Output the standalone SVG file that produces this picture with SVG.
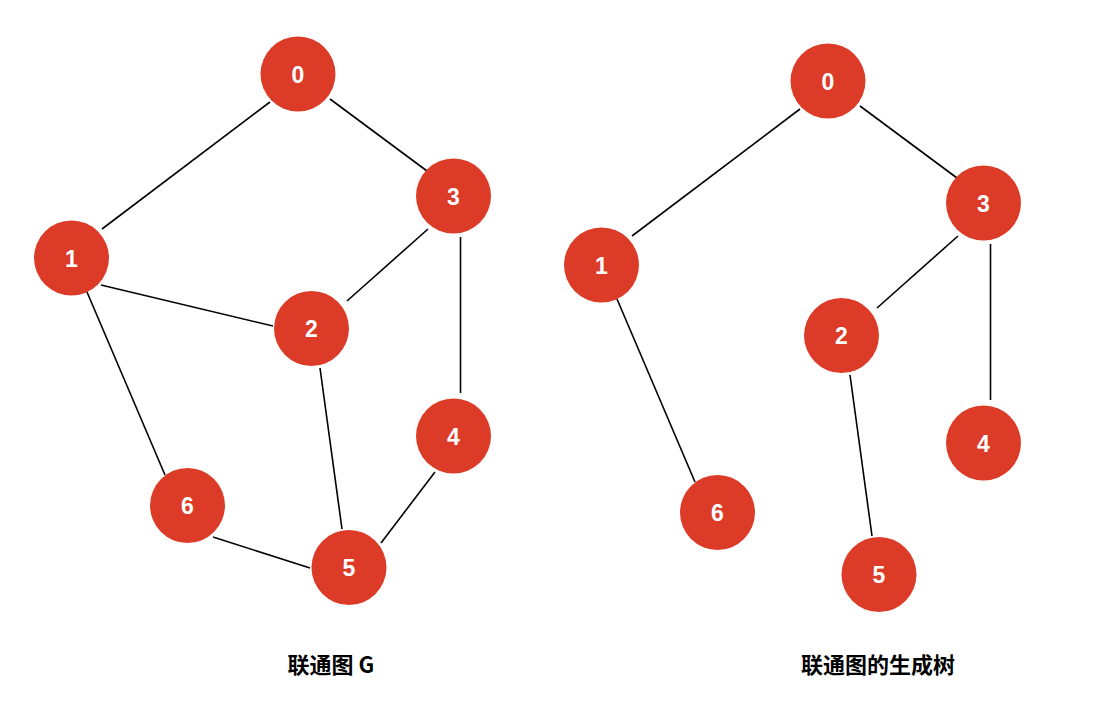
<svg xmlns="http://www.w3.org/2000/svg" width="1114" height="708" viewBox="0 0 1114 708">
<style>
.n circle{fill:#DC3B27}
.n text{fill:#fff;font-family:"Liberation Sans",Arial,sans-serif;font-weight:bold;font-size:23px;text-anchor:middle}
.e line{stroke:#000;stroke-width:1.6}
.t{font-family:"Noto Sans CJK SC","Liberation Sans",sans-serif;font-weight:bold;font-size:22px;text-anchor:middle;fill:#000}
</style>
<rect width="1114" height="708" fill="#fff"/>
<g id="connectors" class="e">
<line x1="270" y1="102" x2="102" y2="229"/>
<line x1="330" y1="99" x2="427" y2="171"/>
<line x1="101" y1="285" x2="273" y2="326"/>
<line x1="428" y1="229" x2="347" y2="301"/>
<line x1="460.5" y1="237" x2="460.5" y2="393"/>
<line x1="87" y1="292" x2="165" y2="475"/>
<line x1="320" y1="368" x2="342" y2="529"/>
<line x1="435" y1="472" x2="381" y2="543"/>
<line x1="213" y1="537" x2="310" y2="568"/>
<line x1="800" y1="109" x2="632" y2="236"/>
<line x1="860" y1="106" x2="957" y2="178"/>
<line x1="958" y1="236" x2="877" y2="308"/>
<line x1="990.5" y1="244" x2="990.5" y2="400"/>
<line x1="617" y1="299" x2="695" y2="482"/>
<line x1="850" y1="375" x2="872" y2="536"/>
</g>
<g id="node-L0" class="n"><circle cx="298" cy="74" r="37.5"/><text x="298" y="82.5">0</text></g>
<g id="node-L3" class="n"><circle cx="453.5" cy="196" r="37.5"/><text x="453.5" y="204.5">3</text></g>
<g id="node-L1" class="n"><circle cx="71.5" cy="258" r="37.5"/><text x="71.5" y="266.5">1</text></g>
<g id="node-L2" class="n"><circle cx="311.5" cy="328.5" r="37.5"/><text x="311.5" y="337">2</text></g>
<g id="node-L4" class="n"><circle cx="453.5" cy="436" r="37.5"/><text x="453.5" y="444.5">4</text></g>
<g id="node-L6" class="n"><circle cx="187.5" cy="505.5" r="37.5"/><text x="187.5" y="514">6</text></g>
<g id="node-L5" class="n"><circle cx="349" cy="567.5" r="37.5"/><text x="349" y="576">5</text></g>
<g id="node-R0" class="n"><circle cx="828" cy="81" r="37.5"/><text x="828" y="89.5">0</text></g>
<g id="node-R3" class="n"><circle cx="983.5" cy="203" r="37.5"/><text x="983.5" y="211.5">3</text></g>
<g id="node-R1" class="n"><circle cx="601.5" cy="265" r="37.5"/><text x="601.5" y="273.5">1</text></g>
<g id="node-R2" class="n"><circle cx="841.5" cy="335.5" r="37.5"/><text x="841.5" y="344">2</text></g>
<g id="node-R4" class="n"><circle cx="983.5" cy="443" r="37.5"/><text x="983.5" y="451.5">4</text></g>
<g id="node-R6" class="n"><circle cx="717.5" cy="512.5" r="37.5"/><text x="717.5" y="521">6</text></g>
<g id="node-R5" class="n"><circle cx="879" cy="574.5" r="37.5"/><text x="879" y="583">5</text></g>
<g id="titles">
<text class="t" x="331" y="673">联通图 G</text>
<text class="t" x="878" y="673">联通图的生成树</text>
</g>
</svg>
